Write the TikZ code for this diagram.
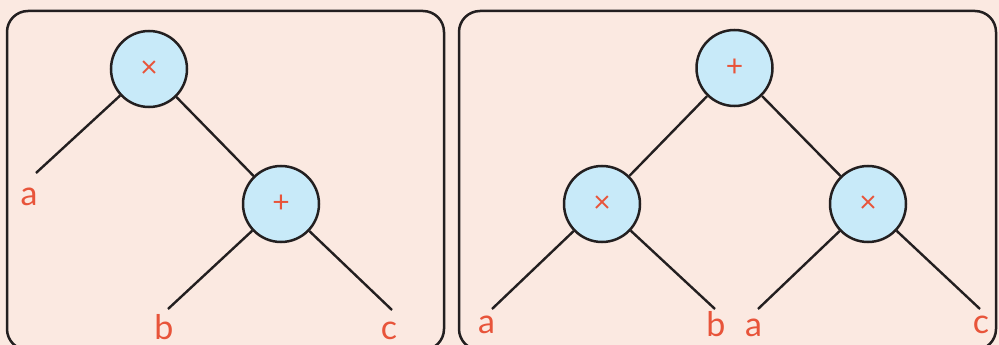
\documentclass[tikz,border=0pt]{standalone}
\usepackage{fontspec}
\setmainfont{Lato}
\definecolor{bgpeach}{HTML}{FBE9E1}
\definecolor{nodeblue}{HTML}{C8EAF9}
\definecolor{inkdark}{HTML}{231F20}
\definecolor{txtred}{HTML}{E8543A}
\tikzset{
  opnode/.style={circle, draw=inkdark, fill=nodeblue, line width=2.5pt, minimum size=76pt, inner sep=0pt,
    text=txtred, font=\fontsize{30}{34}\selectfont},
  leaf/.style={anchor=base, text=txtred, inner sep=0pt, font=\fontsize{34}{40}\selectfont},
  edge/.style={draw=inkdark, line width=2.4pt},
  panel/.style={draw=inkdark, line width=2.5pt, rounded corners=21pt}
}
\begin{document}
\begin{tikzpicture}[x=1pt,y=-1pt]
\useasboundingbox (0,0) rectangle (999,345);
\fill[bgpeach] (0,0) rectangle (999,345);
\begin{scope}
\clip (0,0) rectangle (999,345);
\draw[panel] (7,11) rectangle (444,350);
\draw[panel] (459,11) rectangle (996,350);
\end{scope}
% left tree
\node[opnode] (lmul) at (149,69) {×};
\node[opnode] (lplus) at (281,204) {+};
\coordinate (la1) at (36,173);
\coordinate (lb1) at (168,309);
\coordinate (lc1) at (392,310);
\draw[edge] (lmul) -- (la1);
\draw[edge] (lmul) -- (lplus);
\draw[edge] (lplus) -- (lb1);
\draw[edge] (lplus) -- (lc1);
\node[leaf] (lat) at (29,205) {a};
\node[leaf] (lbt) at (164,339) {b};
\node[leaf] (lct) at (389,339) {c};
% right tree
\node[opnode] (rplus) at (734.5,68) {+};
\node[opnode] (rmul1) at (602,204) {×};
\node[opnode] (rmul2) at (868,204) {×};
\coordinate (ra1) at (492,309);
\coordinate (rb1) at (715,309);
\coordinate (ra2) at (758,309);
\coordinate (rc1) at (980,309);
\draw[edge] (rplus) -- (rmul1);
\draw[edge] (rplus) -- (rmul2);
\draw[edge] (rmul1) -- (ra1);
\draw[edge] (rmul1) -- (rb1);
\draw[edge] (rmul2) -- (ra2);
\draw[edge] (rmul2) -- (rc1);
\node[leaf] (rat) at (486.5,333) {a};
\node[leaf] (rbt) at (716,336) {b};
\node[leaf] (ra2t) at (753.5,336) {a};
\node[leaf] (rct) at (981,333) {c};
\end{tikzpicture}
\end{document}
